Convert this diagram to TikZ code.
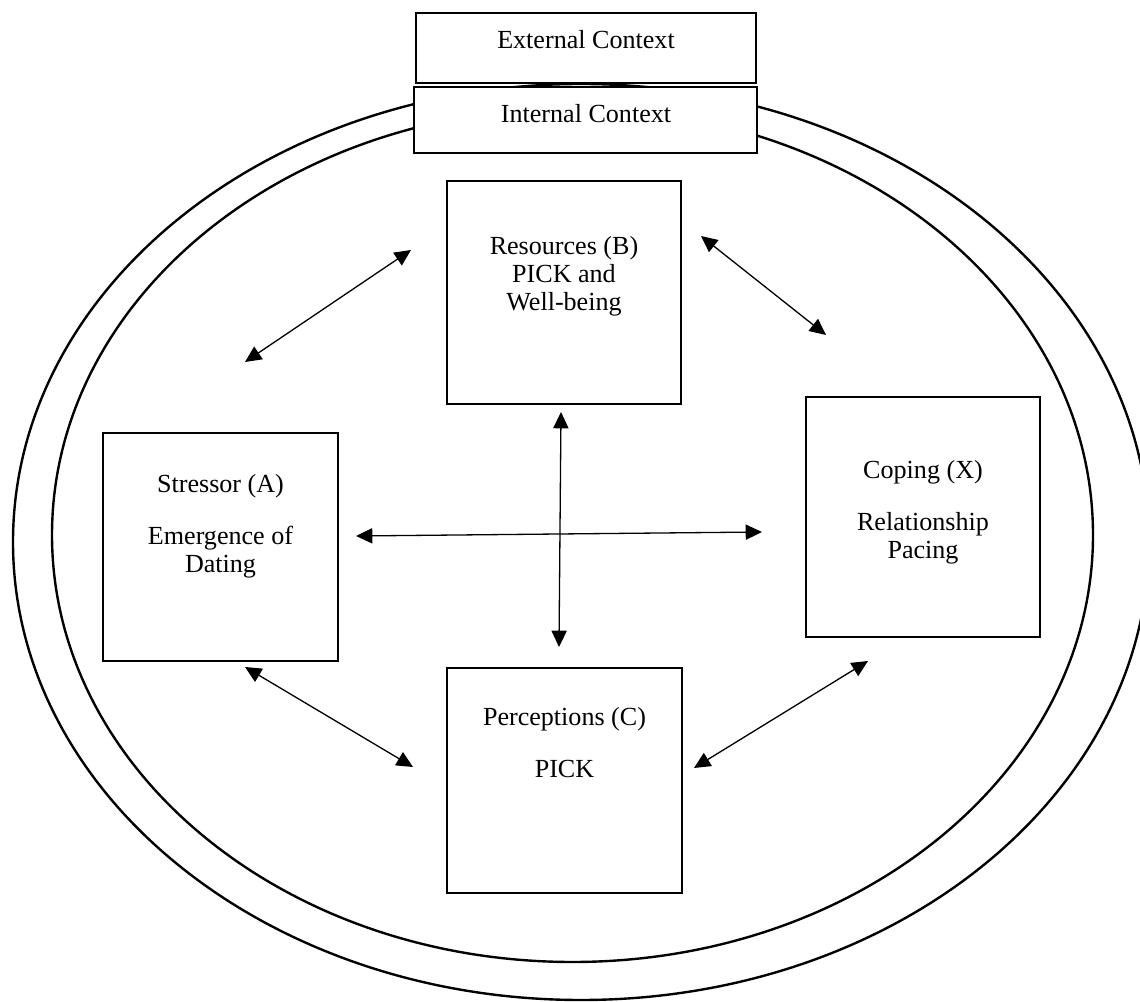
\documentclass[tikz,border=0pt]{standalone}
\usepackage{fontspec}
\setmainfont{Liberation Serif}
\usetikzlibrary{calc, arrows.meta, positioning}

\tikzset{
	stagebox/.style={draw, line width=1.2pt, fill=white, inner sep=0pt},
	ctxbox/.style={draw, line width=0.6pt, fill=white, inner sep=0pt},
	boxtext/.style={align=center, inner sep=0pt, anchor=north, font=\fontsize{12}{12.9}\selectfont},
	ring/.style={line width=1.1pt},
	link/.style={line width=0.6pt, {Triangle[length=7.5pt,width=7pt]}-{Triangle[length=7.5pt,width=7pt]}}
}

\begin{document}
\begin{tikzpicture}[x=0.46pt, y=-0.46pt]
			\def\px{0.46pt}

			\clip (0,0) rectangle (1140,1002);

			\draw [ring] (581,542) ellipse [x radius=568, y radius=458];
			\draw [ring] (572.5,535) ellipse [x radius=520.5, y radius=427];

			\node [ctxbox, minimum width=340*\px, minimum height=70*\px] (ext) at (586,48) {};
			\node [ctxbox, minimum width=343*\px, minimum height=66*\px] (int) at (585.5,120) {};
			\node [boxtext] (ext text) at (586,30) {External Context};
			\node [boxtext] (int text) at (586,104) {Internal Context};

			\node [stagebox, minimum width=234*\px, minimum height=223*\px] (res) at (564,292.5) {};
			\node [stagebox, minimum width=235*\px, minimum height=228*\px] (str) at (220.5,547) {};
			\node [stagebox, minimum width=234*\px, minimum height=240*\px] (cop) at (923,517) {};
			\node [stagebox, minimum width=235*\px, minimum height=225*\px] (per) at (564.5,780.5) {};

			\node [boxtext] (res text) at ($ (res.north) + (0,56) $) {Resources (B)\\PICK and\\Well-being};
			\node [boxtext] (str text) at ($ (str.north) + (0,42) $) {Stressor (A)\\[11pt]Emergence of\\Dating};
			\node [boxtext] (cop text) at ($ (cop.north) + (0,64) $) {Coping (X)\\[11pt]Relationship\\Pacing};
			\node [boxtext] (per text) at ($ (per.north) + (0,40) $) {Perceptions (C)\\[11pt]PICK};

			\coordinate (str res a) at (245,362);
			\coordinate (str res b) at (411,250);
			\coordinate (res cop a) at (701,236);
			\coordinate (res cop b) at (826,335);
			\coordinate (res per a) at (561,412);
			\coordinate (res per b) at (559,647);
			\coordinate (str cop a) at (356,536);
			\coordinate (str cop b) at (762,532);
			\coordinate (str per a) at (245,667);
			\coordinate (str per b) at (413,767);
			\coordinate (per cop a) at (694,768);
			\coordinate (per cop b) at (868,661);

			\begin{scope}[link]
				\draw (str res a) -- (str res b);
				\draw (res cop a) -- (res cop b);
				\draw (res per a) -- (res per b);
				\draw (str cop a) -- (str cop b);
				\draw (str per a) -- (str per b);
				\draw (per cop a) -- (per cop b);
			\end{scope}
		\end{tikzpicture}
\end{document}
